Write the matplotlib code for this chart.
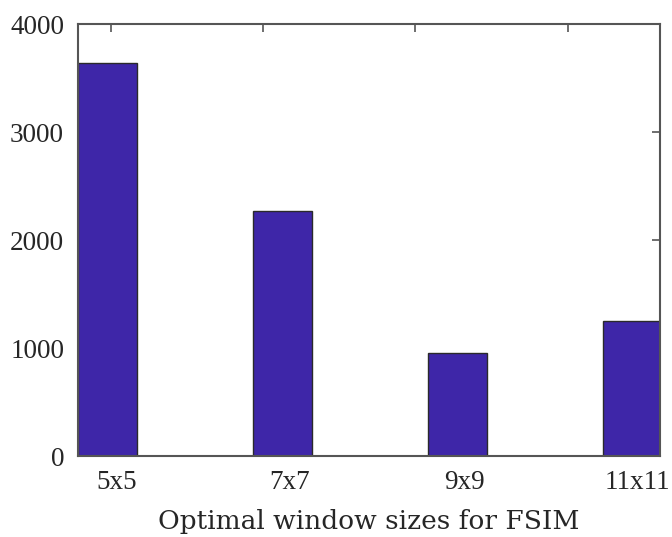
import matplotlib
matplotlib.use("Agg")
import matplotlib.pyplot as plt
import numpy as np

# Counts of optimal window sizes
categories = ["5x5", "7x7", "9x9", "11x11"]
counts = [3636, 2271, 956, 1253]
top_tick_positions = [0.018, 0.89, 1.757, 2.629]
label_positions = [0.054, 1.04, 2.04, 3.03]
y_ticks = [0, 1000, 2000, 3000, 4000]

plt.rcParams["font.family"] = ["Liberation Serif", "DejaVu Serif"]
text_color = "#262626"
spine_color = "#555555"
tick_fs = 19.5

fig = plt.figure(figsize=(6.72, 5.37), dpi=100)
ax = fig.add_axes([78 / 672, 81 / 537, 582 / 672, 432 / 537])

x = np.arange(len(categories))
ax.bar(x, counts, width=0.337, color="#3e26a8", edgecolor="#2a2a2a", linewidth=1.0, zorder=2)

ax.set_xlim(-0.1686, 3.157)
ax.set_ylim(0, 4000)

# Category labels below, inward tick marks only along the top edge
ax.set_xticks(label_positions)
ax.set_xticklabels(categories)
ax.tick_params(axis="x", bottom=False, length=0, pad=10, labelsize=tick_fs, labelcolor=text_color)
top = ax.secondary_xaxis("top")
top.set_xticks(top_tick_positions)
top.set_xticklabels([])
top.tick_params(direction="in", length=6, width=1.2, color=spine_color)
top.spines["top"].set_visible(False)

ax.set_yticks(y_ticks)
ax.tick_params(axis="y", direction="in", length=6, width=1.2, color=spine_color,
               right=True, left=False, pad=10, labelsize=tick_fs, labelcolor=text_color)

for s in ax.spines.values():
    s.set_color(spine_color)
    s.set_linewidth(1.5)
    s.set_zorder(3)

ax.set_xlabel("Optimal window sizes for FSIM", fontsize=19, family="DejaVu Serif",
              color=text_color, labelpad=10)

fig.savefig("out.png", dpi=100)
